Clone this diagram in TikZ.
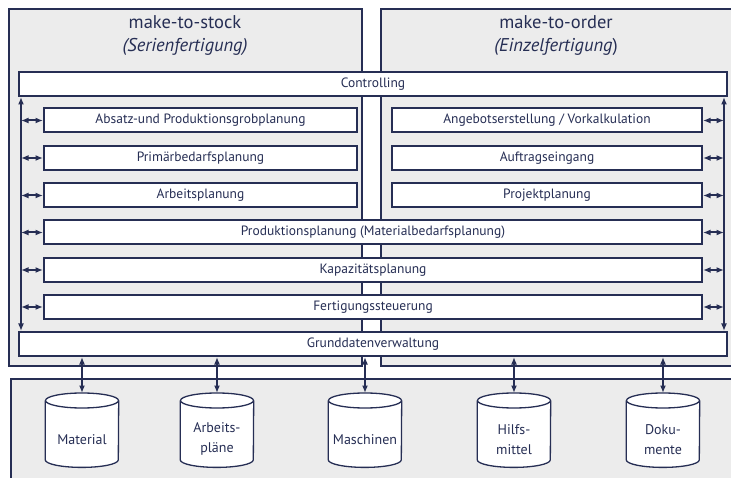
\documentclass[tikz,border=0pt]{standalone}
\usepackage{fontspec}
\setmainfont{PT Sans}
\usetikzlibrary{positioning,calc,arrows.meta,backgrounds}

\definecolor{navy}{RGB}{38,46,84}
\definecolor{panelgray}{RGB}{236,236,236}

\tikzset{
	panel/.style={draw=navy, line width=1.5pt, fill=panelgray},
	task/.style={draw=navy, line width=2pt, fill=white, inner sep=0pt,
		minimum height=24pt, text=navy, font=\fontsize{13.5}{15}\selectfont},
	link/.style={draw=navy, line width=2pt,
		{Latex[length=7.5pt,width=6pt]}-{Latex[length=7.5pt,width=6pt]}},
	store/.style={inner sep=0pt, minimum width=73pt, minimum height=56pt,
		align=center, text=navy, font=\fontsize{14}{20}\selectfont},
	drum/.style={draw=navy, fill=white, line width=1.3pt},
	title/.style={text=navy, font=\fontsize{18.5}{20}\selectfont}
}

\begin{document}
\begin{tikzpicture}[x=1pt,y=-1pt]
	\useasboundingbox (0,0) rectangle (731,478);
	\clip (0,0) rectangle (731,478);
	
	% panels
	\begin{scope}[on background layer]
		\draw[panel] (9,9) rectangle (362,366);
		\draw[panel] (381,9) rectangle (760,366);
		\draw[panel] (11,379) rectangle (760,500);
	\end{scope}
	
	\node[title] (stock) at (185,22) {make-to-stock};
	\node[title] (serie) at (185,47) {\textit{(Serienfertigung)}};
	\node[title] (order) at (556,22) {make-to-order};
	\node[title] (einzel) at (556,47) {\textit{(Einzelfertigung})};
	
	% tasks
	\node[task, minimum width=708pt] (ctrl) at (373,84) {Controlling};
	\node[task, minimum width=313pt] (absatz) at (200.5,120.5) {Absatz-und Produktionsgrobplanung};
	\node[task, minimum width=313pt] (primaer) at (200.5,158) {Primärbedarfsplanung};
	\node[task, minimum width=313pt] (arbeit) at (200.5,195.5) {Arbeitsplanung};
	\node[task, minimum width=310pt] (angebot) at (547,120.5) {Angebotserstellung / Vorkalkulation};
	\node[task, minimum width=310pt] (auftrag) at (547,158) {Auftragseingang};
	\node[task, minimum width=310pt] (projekt) at (547,195.5) {Projektplanung};
	\node[task, minimum width=658pt] (prod) at (373,232.5) {Produktionsplanung (Materialbedarfsplanung)};
	\node[task, minimum width=658pt] (kapa) at (373,270) {Kapazitätsplanung};
	\node[task, minimum width=658pt] (fert) at (373,307) {Fertigungssteuerung};
	\node[task, minimum width=708pt] (grund) at (373,344) {Grunddatenverwaltung};
	
	% busses
	\coordinate (busL) at ($(ctrl.south west)+(3,0)$);
	\coordinate (busR) at ($(ctrl.south east)+(-4,0)$);
	\draw[link] (busL) -- (busL |- grund.north);
	\draw[link] (busR) -- (busR |- grund.north);
	
	\foreach \t in {absatz,primaer,arbeit,prod,kapa,fert}
		\draw[link] (busL |- \t.west) -- (\t.west);
	\foreach \t in {angebot,auftrag,projekt,prod,kapa,fert}
		\draw[link] (\t.east) -- (busR |- \t.east);
	
	% data stores
	\node[store, anchor=north] (mat) at (82,411) {Material};
	\node[store, anchor=north] (plaene) at (217,411) {Arbeits-\\pläne};
	\node[store, anchor=north] (masch) at (365,411) {Maschinen};
	\node[store, anchor=north] (hilf) at (514,411) {Hilfs-\\mittel};
	\node[store, anchor=north] (doku) at (663,411) {Doku-\\mente};
	
	\begin{scope}[on background layer]
		\foreach \s in {mat,plaene,masch,hilf,doku}{
			\draw[drum] ($(\s.north west)+(0,-10.5)$) -- ($(\s.south west)+(0,-7.5)$)
				arc[start angle=180, end angle=0, x radius=36.5, y radius=7.5]
				-- ($(\s.north east)+(0,-10.5)$);
			\draw[drum] ($(\s.north)+(0,-10.5)$) ellipse[x radius=36.5, y radius=7.5];
			\coordinate (\s top) at ($(\s.north)+(0,-18)$);
		}
	\end{scope}
	
	\foreach \s in {mat,plaene,masch,hilf,doku}
		\draw[link] (\s top |- grund.south) -- (\s top);
\end{tikzpicture}
\end{document}
